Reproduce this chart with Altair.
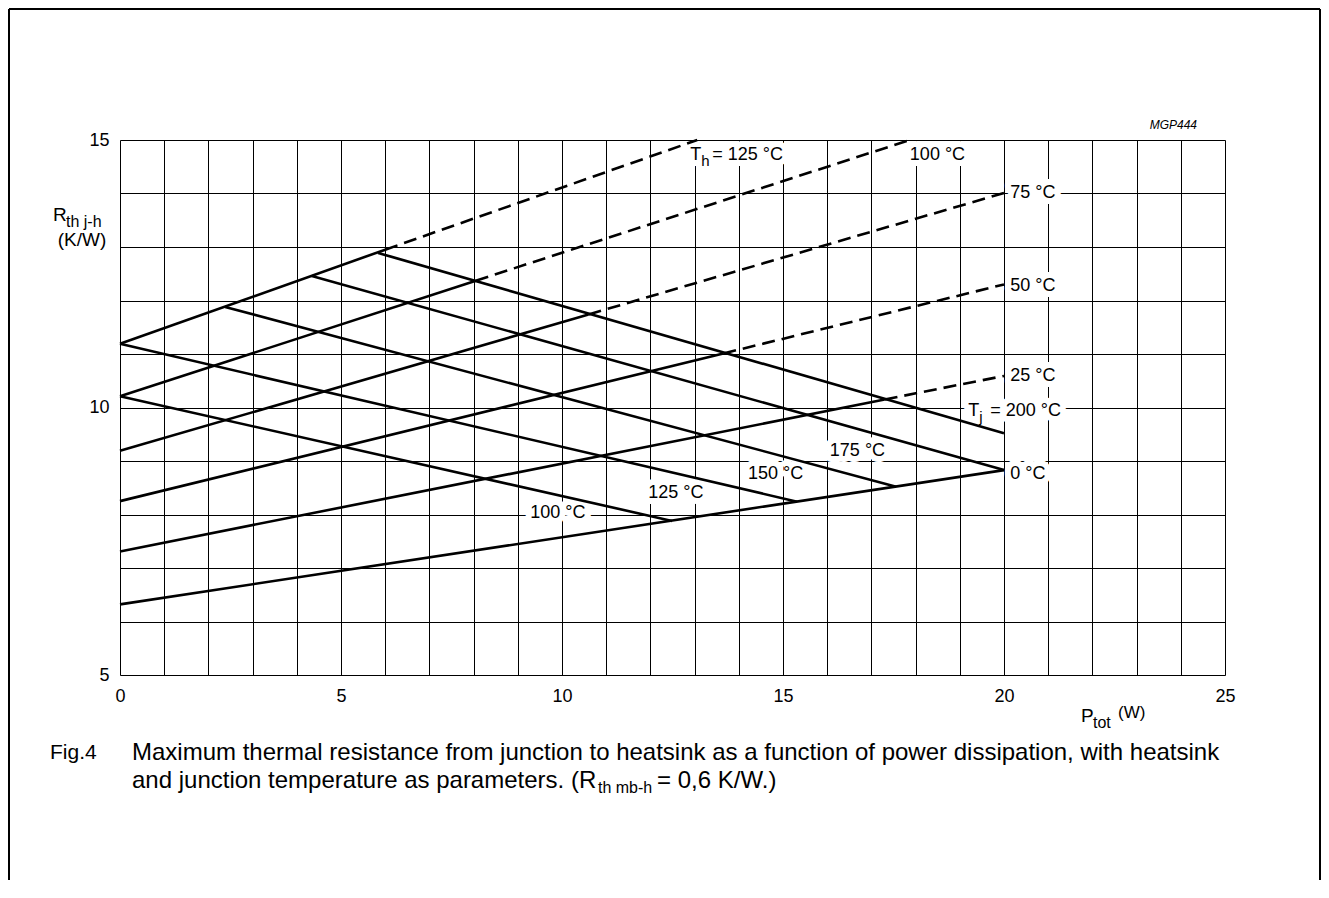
import altair as alt
import pandas as pd

FONT = "Liberation Sans"

# ---- data ----
# heatsink-temperature curves (rising): solid up to Tj=200 °C, dashed beyond
th_names = ["0 °C", "25 °C", "50 °C", "75 °C", "100 °C", "125 °C"]
th_p_start = [0, 0, 0, 0, 0, 0]
th_r_start = [6.32, 7.31, 8.25, 9.19, 10.21, 11.19]
th_p_break = [20.0, 17.3, 13.65, 10.6, 8.05, 6.0]
th_r_break = [8.83, 10.15, 11.01, 11.74, 12.37, 12.95]
th_p_end = [20.0, 20.0, 20.0, 20.0, 17.87, 13.06]
th_r_end = [8.83, 10.59, 12.30, 14.01, 15.0, 15.0]

# junction-temperature curves (falling)
tj_names = ["100 °C", "125 °C", "150 °C", "175 °C", "200 °C"]
tj_p_start = [0, 0, 2.38, 4.34, 5.84]
tj_r_start = [10.21, 11.19, 11.88, 12.46, 12.89]
tj_p_end = [12.49, 15.32, 17.56, 20.0, 20.0]
tj_r_end = [7.88, 8.24, 8.52, 8.83, 9.52]

# curve labels
lab_text = ["100 °C", "75 °C", "50 °C", "25 °C", "0 °C", "175 °C", "150 °C", "125 °C", "100 °C"]
lab_p = [17.87, 20.14, 20.14, 20.14, 20.14, 16.06, 14.21, 11.95, 9.28]
lab_r = [14.72, 14.01, 12.27, 10.58, 8.76, 9.19, 8.76, 8.41, 8.03]

sub_main = ["T", "T"]
sub_small = ["h", "j"]
sub_rest = ["= 125 °C", "= 200 °C"]
sub_p = [12.9, 19.19]
sub_r = [14.72, 9.94]

x_ticks = list(range(0, 26))
y_ticks = [5 + 0.5 * i for i in range(21)]

# ---- tables ----
solid_rows, dash_rows = [], []
for i, n in enumerate(th_names):
    solid_rows += [dict(seg="th" + n, k=0, P=th_p_start[i], R=th_r_start[i]),
                   dict(seg="th" + n, k=1, P=th_p_break[i], R=th_r_break[i])]
    if th_p_end[i] != th_p_break[i] or th_r_end[i] != th_r_break[i]:
        dash_rows += [dict(seg="th" + n, k=0, P=th_p_break[i], R=th_r_break[i]),
                      dict(seg="th" + n, k=1, P=th_p_end[i], R=th_r_end[i])]
for i, n in enumerate(tj_names):
    solid_rows += [dict(seg="tj" + n, k=0, P=tj_p_start[i], R=tj_r_start[i]),
                   dict(seg="tj" + n, k=1, P=tj_p_end[i], R=tj_r_end[i])]
solid_df = pd.DataFrame(solid_rows)
dash_df = pd.DataFrame(dash_rows)
lab_df = pd.DataFrame(dict(text=lab_text, P=lab_p, R=lab_r))
sub_df = pd.DataFrame(dict(main=sub_main, small=sub_small, rest=sub_rest, P=sub_p, R=sub_r))

xaxis = alt.Axis(values=x_ticks, grid=True, gridColor="#000", gridWidth=1, gridOpacity=1,
                 ticks=False, domain=False, title=None, labelFlush=False, labelOverlap=False,
                 format="d",
                 labelExpr="datum.value % 5 === 0 ? datum.label : ''",
                 labelFont=FONT, labelFontSize=18, labelColor="#000", labelPadding=12)
yaxis = alt.Axis(values=y_ticks, grid=True, gridColor="#000", gridWidth=1, gridOpacity=1,
                 ticks=False, domain=False, title=None, labelFlush=False, labelOverlap=False,
                 format="d",
                 labelExpr="datum.value % 5 === 0 ? datum.label : ''",
                 labelFont=FONT, labelFontSize=18, labelColor="#000", labelPadding=11)
X = alt.X("P:Q", scale=alt.Scale(domain=[0, 25], nice=False, zero=False), axis=xaxis)
Y = alt.Y("R:Q", scale=alt.Scale(domain=[5, 15], nice=False, zero=False), axis=yaxis)

solid = alt.Chart(solid_df).mark_line(color="#000", strokeWidth=2.6).encode(
    x=X, y=Y, detail="seg:N", order="k:O")
dashed = alt.Chart(dash_df).mark_line(color="#000", strokeWidth=2.6, strokeDash=[13, 7]).encode(
    x=X, y=Y, detail="seg:N", order="k:O")

def halo_and_text(df, field, size, dx=0, dy=0):
    common = dict(align="left", baseline="middle", font=FONT, fontSize=size, dx=dx, dy=dy)
    h = alt.Chart(df).mark_text(stroke="#fff", strokeWidth=12, strokeJoin="round", fill="#fff",
                                **common).encode(x=X, y=Y, text=f"{field}:N")
    t = alt.Chart(df).mark_text(color="#000", **common).encode(x=X, y=Y, text=f"{field}:N")
    return h, t

label_halos, label_texts = [], []
for args in [(lab_df, "text", 18), (sub_df, "main", 18), (sub_df, "small", 15, 11, 6),
             (sub_df, "rest", 18, 22)]:
    h, t = halo_and_text(*args)
    label_halos.append(h)
    label_texts.append(t)

one = pd.DataFrame({"d": [0]})

def free_text(txt, px, py, size=18, align="left", italic=False):
    kw = dict(text=txt, align=align, baseline="middle", font=FONT, fontSize=size, color="#000")
    if italic:
        kw["fontStyle"] = "italic"
    return alt.Chart(one).mark_text(**kw).encode(x=alt.value(px), y=alt.value(py))

def frame_rule(x1, x2, y1, y2):
    return alt.Chart(one).mark_rule(color="#000", strokeWidth=2).encode(
        x=alt.value(x1), x2=alt.value(x2), y=alt.value(y1), y2=alt.value(y2))

CAP = 24
deco = [
    free_text("R", -67, 75, 19),
    free_text("th j-h", -54, 82, 16),
    free_text("(K/W)", -38, 100, 19, align="center"),
    free_text("P", 961, 576, 19),
    free_text("tot", 973, 583, 16),
    free_text("(W)", 998, 573, 17),
    free_text("MGP444", 1077, -15, 12, align="right", italic=True),
    free_text("Fig.4", -70, 613, 21),
    free_text("Maximum thermal resistance from junction to heatsink as a function of power dissipation, with heatsink",
              12, 613, CAP),
    free_text("and junction temperature as parameters. (R", 12, 641, CAP),
    free_text("th mb-h", 478, 648, 16),
    free_text("= 0,6 K/W.)", 537, 641, CAP),
    frame_rule(-111, 1200, -131, -131),
    frame_rule(-111, -111, -131, 740),
    frame_rule(1200, 1200, -131, 740),
]

chart = alt.layer(*label_halos, solid, dashed, *label_texts, *deco).properties(
    width=1105, height=535,
    padding={"left": 112, "top": 132, "right": 96, "bottom": 205},
    autosize=alt.AutoSizeParams(type="none"),
).configure_view(strokeWidth=0).configure(background="#fff")

chart.save("out.html", embed_options={"renderer": "svg", "actions": False})
